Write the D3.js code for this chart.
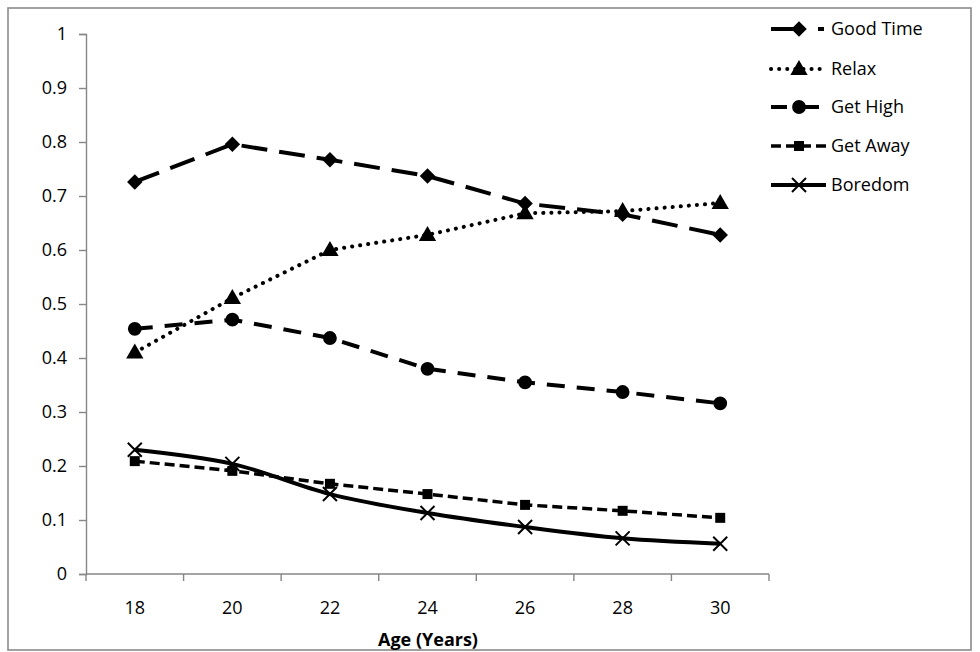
<!DOCTYPE html>
<html><head><meta charset="utf-8">
<script src="https://cdn.jsdelivr.net/npm/d3@7"></script>
<style>body{margin:0;background:#fff}svg{display:block}text{font-family:"Open Sans",Lato,sans-serif}</style>
</head><body>
<script>
const ages = [18, 20, 22, 24, 26, 28, 30];
const goodTime = [0.726, 0.796, 0.767, 0.737, 0.686, 0.666, 0.628];
const relax = [0.41, 0.511, 0.6, 0.628, 0.668, 0.672, 0.687];
const getHigh = [0.454, 0.471, 0.437, 0.38, 0.355, 0.337, 0.316];
const getAway = [0.209, 0.191, 0.167, 0.148, 0.128, 0.117, 0.104];
const boredom = [0.23, 0.204, 0.148, 0.113, 0.087, 0.066, 0.056];
const yTicks = [0, 0.1, 0.2, 0.3, 0.4, 0.5, 0.6, 0.7, 0.8, 0.9, 1];
const seriesNames = ["Good Time", "Relax", "Get High", "Get Away", "Boredom"];

const W = 980, H = 652;
const FONT = "'Open Sans', Lato, sans-serif";
const FS = "18px";
const svg = d3.select("body").append("svg").attr("width", W).attr("height", H);
svg.append("rect").attr("x", 8).attr("y", 8).attr("width", 963).attr("height", 642)
  .attr("fill", "#fff").attr("stroke", "#8a8a8a").attr("stroke-width", 1.6);

const x = d3.scaleBand().domain(ages).range([86, 769]).padding(0);
const y = d3.scaleLinear().domain([0, 1]).range([574, 34]);
const cx = a => x(a) + x.bandwidth() / 2;

const axisColor = "#868686";
const gy = svg.append("g").attr("transform", "translate(86,0)")
  .call(d3.axisLeft(y).tickValues(yTicks).tickFormat(d3.format("~g")).tickSize(7).tickPadding(12));
const gx = svg.append("g").attr("transform", "translate(0,574)")
  .call(d3.axisBottom(x).tickSize(0).tickPadding(27));
[gy, gx].forEach(g => {
  g.select(".domain").attr("stroke", axisColor).attr("stroke-width", 1.4);
  g.selectAll(".tick line").attr("stroke", axisColor).attr("stroke-width", 1.4);
  g.selectAll("text").attr("fill", "#000").style("font-size", FS).style("font-family", FONT);
});
// x-axis category boundary ticks
gx.selectAll(".bt").data([...ages.map(a => x(a)), x.range()[1]]).enter()
  .append("line").attr("class", "bt").attr("x1", d => d).attr("x2", d => d)
  .attr("y1", 0).attr("y2", 7).attr("stroke", axisColor).attr("stroke-width", 1.4);
gx.select(".domain").attr("d", "M86,0H769");

svg.append("text").attr("x", 428).attr("y", 646).attr("text-anchor", "middle")
  .style("font-size", FS).style("font-weight", "bold").style("font-family", FONT).text("Age (Years)");

const styles = [
  {vals: goodTime, dash: "26,12", w: 4, cap: "butt", curve: d3.curveLinear, marker: "diamond", ldash: "29,18,6,20"},
  {vals: relax, dash: "0.1,8", w: 4, cap: "round", curve: d3.curveLinear, marker: "triangle", ldash: "0.1,8"},
  {vals: getHigh, dash: "18,12", w: 4, cap: "butt", curve: d3.curveLinear, marker: "circle", ldash: "16,6,26,100"},
  {vals: getAway, dash: "10,5", w: 3.5, cap: "butt", curve: d3.curveLinear, marker: "square", ldash: "10,5"},
  {vals: boredom, dash: null, w: 4, cap: "butt", curve: d3.curveCatmullRom.alpha(0.5), marker: "cross", ldash: null}
];

function drawMarker(g, type, px, py) {
  if (type === "cross") {
    const s = 7;
    g.append("path").attr("d", `M${px-s},${py-s}L${px+s},${py+s}M${px-s},${py+s}L${px+s},${py-s}`)
      .attr("stroke", "#000").attr("stroke-width", 2).attr("fill", "none");
    return;
  }
  const sym = {diamond: d3.symbolSquare, triangle: d3.symbolTriangle, circle: d3.symbolCircle, square: d3.symbolSquare}[type];
  const size = {diamond: 120, triangle: 130, circle: 150, square: 100}[type];
  const p = g.append("path").attr("d", d3.symbol().type(sym).size(size)()).attr("fill", "#000");
  if (type === "diamond") p.attr("transform", `translate(${px},${py}) rotate(45)`);
  else if (type === "triangle") p.attr("transform", `translate(${px},${py+1})`);
  else p.attr("transform", `translate(${px},${py})`);
}

const plot = svg.append("g");
styles.forEach(s => {
  const line = d3.line().x((d, i) => cx(ages[i])).y(d => y(d)).curve(s.curve);
  plot.append("path").attr("d", line(s.vals)).attr("fill", "none").attr("stroke", "#000")
    .attr("stroke-width", s.w).attr("stroke-dasharray", s.dash).attr("stroke-linecap", s.cap)
    .attr("stroke-linejoin", "round");
});
styles.forEach(s => {
  s.vals.forEach((v, i) => drawMarker(plot, s.marker, cx(ages[i]), y(v)));
});

// legend
const legendY = [29, 69, 107, 146, 185];
const lg = svg.append("g");
styles.forEach((s, i) => {
  const ly = legendY[i];
  lg.append("line").attr("x1", 771).attr("x2", 826).attr("y1", ly).attr("y2", ly)
    .attr("stroke", "#000").attr("stroke-width", s.w).attr("stroke-dasharray", s.ldash)
    .attr("stroke-linecap", s.cap);
  drawMarker(lg, s.marker, 799, ly);
  lg.append("text").attr("x", 831).attr("y", ly + 6).style("font-size", FS).style("font-family", FONT).text(seriesNames[i]);
});
</script>
</body></html>
